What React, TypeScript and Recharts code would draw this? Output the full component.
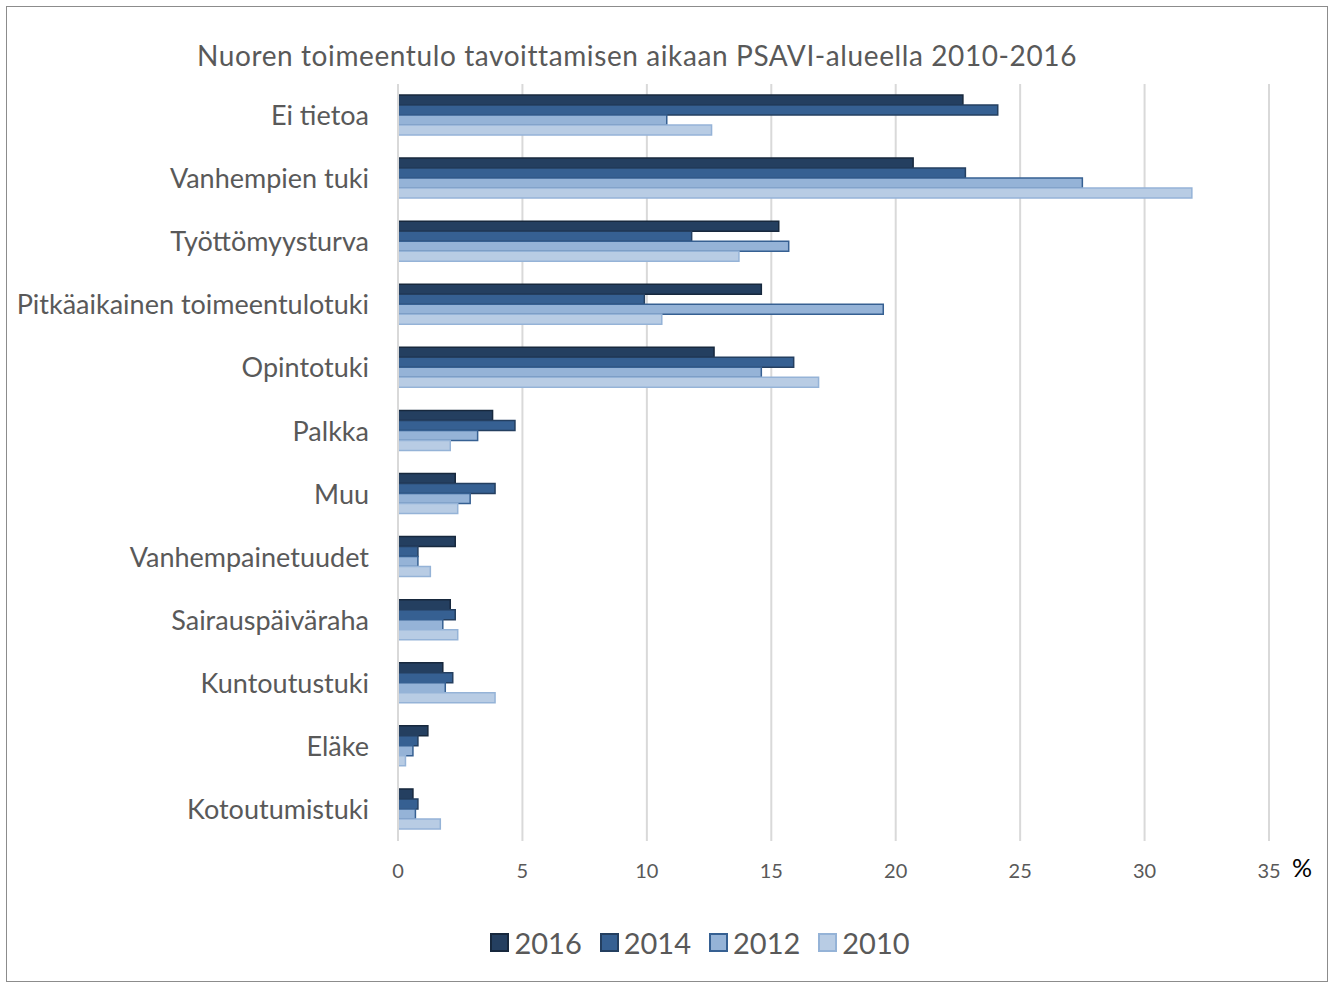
import React from "react";
import { BarChart, Bar, XAxis, YAxis, CartesianGrid, Legend } from "recharts";

const categories = [
  "Ei tietoa",
  "Vanhempien tuki",
  "Työttömyysturva",
  "Pitkäaikainen toimeentulotuki",
  "Opintotuki",
  "Palkka",
  "Muu",
  "Vanhempainetuudet",
  "Sairauspäiväraha",
  "Kuntoutustuki",
  "Eläke",
  "Kotoutumistuki",
];

const v2016 = [22.7, 20.7, 15.3, 14.6, 12.7, 3.8, 2.3, 2.3, 2.1, 1.8, 1.2, 0.6];
const v2014 = [24.1, 22.8, 11.8, 9.9, 15.9, 4.7, 3.9, 0.8, 2.3, 2.2, 0.8, 0.8];
const v2012 = [10.8, 27.5, 15.7, 19.5, 14.6, 3.2, 2.9, 0.8, 1.8, 1.9, 0.6, 0.7];
const v2010 = [12.6, 31.9, 13.7, 10.6, 16.9, 2.1, 2.4, 1.3, 2.4, 3.9, 0.3, 1.7];

const xTicks = [0, 5, 10, 15, 20, 25, 30, 35];

const series = [
  { key: "2016", values: v2016, fill: "#243F60", stroke: "#17283d" },
  { key: "2014", values: v2014, fill: "#366092", stroke: "#243F60" },
  { key: "2012", values: v2012, fill: "#95B3D7", stroke: "#366092" },
  { key: "2010", values: v2010, fill: "#B8CCE4", stroke: "#95B3D7" },
];

const data = categories.map((c, i) => {
  const row: Record<string, string | number> = { name: c };
  series.forEach((s) => {
    row[s.key] = s.values[i];
  });
  return row;
});

const FONT = "Lato, 'Open Sans', sans-serif";
const TEXT = "#595959";

const LegendContent = (props: any) => {
  const payload = [...(props.payload || [])].sort(
    (a: any, b: any) =>
      series.findIndex((s) => s.key === a.value) - series.findIndex((s) => s.key === b.value)
  );
  return (
    <div style={{ display: "flex", justifyContent: "center", alignItems: "center", fontFamily: FONT }}>
      {payload.map((p: any) => {
        const s = series.find((x) => x.key === p.value) || series[0];
        return (
          <div key={p.value} style={{ display: "flex", alignItems: "center", margin: "0 9px" }}>
            <div
              style={{
                width: 15,
                height: 15,
                background: s.fill,
                border: `2px solid ${s.stroke}`,
                marginRight: 5,
              }}
            />
            <span style={{ fontSize: 29, color: TEXT }}>{p.value}</span>
          </div>
        );
      })}
    </div>
  );
};

export default function App() {
  return (
    <div
      style={{
        position: "absolute",
        left: 0,
        top: 0,
        width: 1335,
        height: 985,
        background: "#fff",
        fontFamily: FONT,
      }}
    >
      <div
        style={{
          position: "absolute",
          left: 6,
          top: 6,
          width: 1322,
          height: 976,
          border: "1.5px solid #8c8c8c",
          boxSizing: "border-box",
        }}
      />
      <div
        style={{
          position: "absolute",
          left: 0,
          width: 1274,
          top: 38,
          textAlign: "center",
          fontSize: 28,
          letterSpacing: 0.6,
          color: TEXT,
          whiteSpace: "nowrap",
        }}
      >
        Nuoren toimeentulo tavoittamisen aikaan PSAVI-alueella 2010-2016
      </div>
      <div
        style={{
          position: "absolute",
          left: 1292,
          top: 852,
          fontSize: 25,
          color: "#000",
        }}
      >
        %
      </div>
      <div style={{ position: "absolute", left: 0, top: 0 }}>
        <BarChart
          width={1335}
          height={985}
          data={data}
          layout="vertical"
          margin={{ top: 84, right: 66, bottom: 79, left: 8 }}
          barCategoryGap={11}
          barGap={0}
        >
          <CartesianGrid horizontal={false} stroke="#d9d9d9" strokeWidth={2} />
          <XAxis
            type="number"
            domain={[0, 35]}
            ticks={xTicks}
            axisLine={false}
            tickLine={false}
            tickSize={0}
            tickMargin={23}
            height={30}
            tick={{ fontSize: 20, fill: TEXT, fontFamily: FONT }}
          />
          <YAxis
            type="category"
            dataKey="name"
            width={390}
            axisLine={{ stroke: "#d9d9d9", strokeWidth: 2 }}
            tickLine={false}
            tickSize={0}
            tickMargin={29}
            interval={0}
            tick={{ fontSize: 27, fill: TEXT, fontFamily: FONT }}
          />
          <Legend
            verticalAlign="bottom"
            align="center"
            wrapperStyle={{ left: 0, width: 1400, top: 925, bottom: "auto" }}
            content={<LegendContent />}
          />
          {series.map((s) => (
            <Bar
              key={s.key}
              dataKey={s.key}
              name={s.key}
              fill={s.fill}
              stroke={s.stroke}
              strokeWidth={1.5}
              isAnimationActive={false}
            />
          ))}
        </BarChart>
      </div>
    </div>
  );
}
